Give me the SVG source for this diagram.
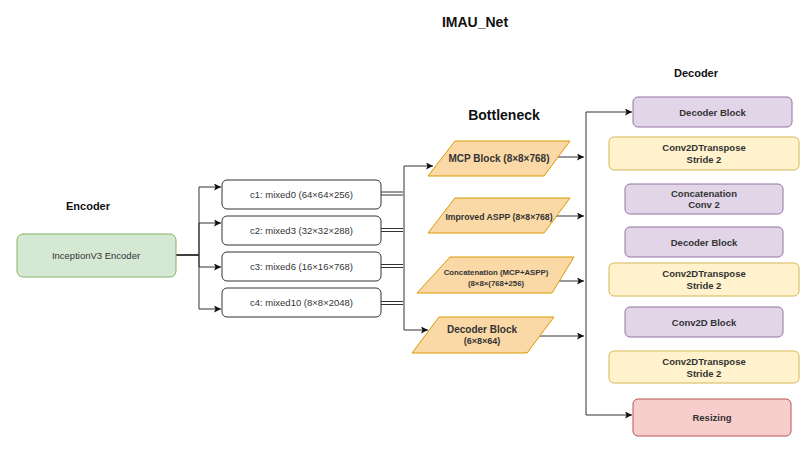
<svg xmlns="http://www.w3.org/2000/svg" width="807" height="455" viewBox="0 0 807 455">
<style>
.t{font-family:"Liberation Sans",Arial,sans-serif;fill:#333;text-anchor:middle}
.h{font-family:"Liberation Sans",Arial,sans-serif;font-weight:bold;fill:#111;text-anchor:middle}
.b{font-weight:bold}
.c{stroke:#333;stroke-width:1;fill:none}
.grn{fill:#d5e8d4;stroke:#82b366}
.wht{fill:#fff;stroke:#333}
.org{fill:#fad9a7;stroke:#d79b00}
.pur{fill:#e1d5e7;stroke:#9673a6}
.yel{fill:#fff2cc;stroke:#d6b656}
.red{fill:#f8cecc;stroke:#b85450}
</style>
<defs>
<marker id="a" markerUnits="userSpaceOnUse" markerWidth="8" markerHeight="7" refX="7" refY="3.5" orient="auto">
<path d="M0,0 L7,3.5 L0,7 L1.5,3.5 z" fill="#111"/>
</marker>
</defs>
<rect width="807" height="455" fill="#fff"/>
<text class="h" x="475" y="27" font-size="14">IMAU_Net</text>
<text class="h" x="88" y="210" font-size="11">Encoder</text>
<text class="h" x="504" y="120" font-size="14">Bottleneck</text>
<text class="h" x="696" y="77" font-size="11">Decoder</text>
<g id="connectors">
<path class="c" d="M176,255 H199 V187 H221" marker-end="url(#a)"/>
<path class="c" d="M176,255 H199 V223 H221" marker-end="url(#a)"/>
<path class="c" d="M176,255 H199 V267 H221" marker-end="url(#a)"/>
<path class="c" d="M176,255 H199 V309 H221" marker-end="url(#a)"/>
<path class="c" d="M381,192 H403 M381,195 H403 M381,228.5 H403 M381,231.5 H403 M381,264.5 H403 M381,267.5 H403 M381,301.5 H403 M381,304.5 H403"/>
<path class="c" d="M404,166 V330"/>
<path class="c" d="M404,166 H433" marker-end="url(#a)"/>
<path class="c" d="M404,330 H428" marker-end="url(#a)"/>
<path class="c" d="M555,157 H584" marker-end="url(#a)"/>
<path class="c" d="M554,216 H584" marker-end="url(#a)"/>
<path class="c" d="M556,281 H584" marker-end="url(#a)"/>
<path class="c" d="M527,336 H584" marker-end="url(#a)"/>
<path class="c" d="M586,112 V415"/>
<path class="c" d="M586,112 H632" marker-end="url(#a)"/>
<path class="c" d="M586,415 H632" marker-end="url(#a)"/>
</g>
<g id="encoder">
<rect class="grn" x="17" y="234" width="159" height="43" rx="6"/>
<text class="t" x="96" y="259" font-size="9.5">InceptionV3 Encoder</text>
</g>
<g id="c1"><rect class="wht" x="222" y="180" width="159" height="29" rx="5"/><text class="t" x="301.5" y="198" font-size="9.5">c1: mixed0 (64×64×256)</text></g>
<g id="c2"><rect class="wht" x="222" y="216" width="159" height="29" rx="5"/><text class="t" x="301.5" y="234" font-size="9.5">c2: mixed3 (32×32×288)</text></g>
<g id="c3"><rect class="wht" x="222" y="252" width="159" height="29" rx="5"/><text class="t" x="301.5" y="270" font-size="9.5">c3: mixed6 (16×16×768)</text></g>
<g id="c4"><rect class="wht" x="222" y="288" width="159" height="29" rx="5"/><text class="t" x="301.5" y="306" font-size="9.5">c4: mixed10 (8×8×2048)</text></g>
<g id="mcp"><polygon class="org" points="455,141 570,141 544,176 428,176"/><text class="t b" x="499" y="162" font-size="10" fill="#222">MCP Block (8×8×768)</text></g>
<g id="aspp"><polygon class="org" points="455,198 570,198 544,233 428,233"/><text class="t b" x="499" y="220" font-size="8.7">Improved ASPP (8×8×768)</text></g>
<g id="concat"><polygon class="org" points="450,257 574,257 552,293 417,293"/><text class="t b" x="496" y="275" font-size="7.8">Concatenation (MCP+ASPP)</text><text class="t b" x="496" y="286" font-size="7.8">(8×8×(768+256)</text></g>
<g id="bdec"><polygon class="org" points="439,317 554,317 527,353 412,353"/><text class="t b" x="482" y="333" font-size="10">Decoder Block</text><text class="t b" x="482" y="344" font-size="9">(6×8×64)</text></g>
<g id="d1"><rect class="pur" x="633" y="97" width="159" height="30" rx="5"/><text class="t b" x="712.5" y="115.5" font-size="9.5">Decoder Block</text></g>
<g id="d2"><rect class="yel" x="609" y="137" width="190" height="33" rx="5"/><text class="t b" x="704" y="151" font-size="9.5">Conv2DTranspose</text><text class="t b" x="704" y="163" font-size="9.5">Stride 2</text></g>
<g id="d3"><rect class="pur" x="625" y="184" width="158" height="30" rx="5"/><text class="t b" x="704" y="197" font-size="9.5">Concatenation</text><text class="t b" x="704" y="208" font-size="9.5">Conv 2</text></g>
<g id="d4"><rect class="pur" x="625" y="227" width="158" height="30" rx="5"/><text class="t b" x="704" y="245.5" font-size="9.5">Decoder Block</text></g>
<g id="d5"><rect class="yel" x="609" y="263" width="190" height="33" rx="5"/><text class="t b" x="704" y="277" font-size="9.5">Conv2DTranspose</text><text class="t b" x="704" y="289" font-size="9.5">Stride 2</text></g>
<g id="d6"><rect class="pur" x="625" y="307" width="158" height="30" rx="5"/><text class="t b" x="704" y="325.5" font-size="9.5">Conv2D Block</text></g>
<g id="d7"><rect class="yel" x="609" y="351" width="190" height="32" rx="5"/><text class="t b" x="704" y="365" font-size="9.5">Conv2DTranspose</text><text class="t b" x="704" y="377" font-size="9.5">Stride 2</text></g>
<g id="d8"><rect class="red" x="633" y="399" width="158" height="37" rx="5"/><text class="t b" x="712" y="421" font-size="9.5">Resizing</text></g>
</svg>
